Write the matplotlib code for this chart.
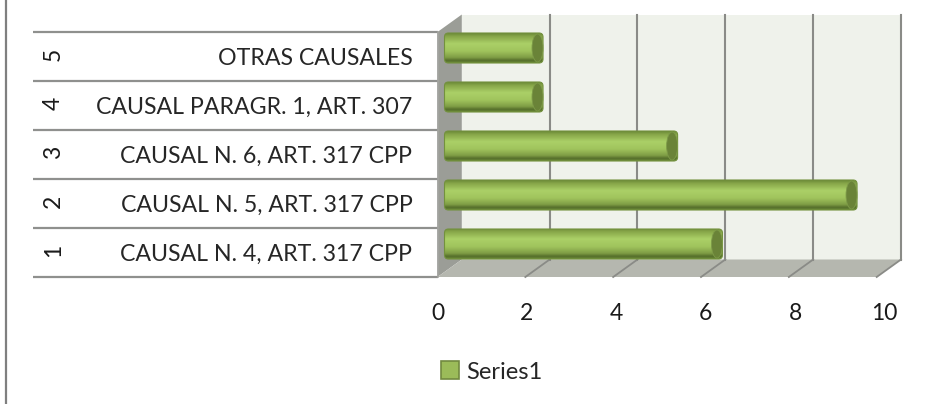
import matplotlib
matplotlib.use('Agg')
import matplotlib.pyplot as plt
import numpy as np
from matplotlib.colors import LinearSegmentedColormap
from matplotlib.patches import Polygon, Ellipse, FancyBboxPatch, Patch
from matplotlib.transforms import ScaledTranslation

# data
row_numbers = ['1', '2', '3', '4', '5']
categories = ['CAUSAL N. 4, ART. 317 CPP', 'CAUSAL N. 5, ART. 317 CPP',
              'CAUSAL N. 6, ART. 317 CPP', 'CAUSAL PARAGR. 1, ART. 307', 'OTRAS CAUSALES']
values = [6, 9, 5, 2, 2]
x_ticks = [0, 2, 4, 6, 8, 10]
series_name = 'Series1'

W, H = 952, 404
plt.rcParams['font.family'] = ['Lato', 'DejaVu Sans']

fig = plt.figure(figsize=(W / 100, H / 100), dpi=100)

# axes covers the front plane of the fake 3d box, in pixels
left, right, top, bottom = 437.5, 876.7, 32, 277
ax = fig.add_axes([left / W, 1 - bottom / H, (right - left) / W, (bottom - top) / H])
ax.set_xlim(0, 10)
ax.set_ylim(0.5, 5.5)
for s in ax.spines.values():
    s.set_visible(False)

# one data unit in pixels, and the depth of the box in data units
px_x = (right - left) / 10
px_y = (bottom - top) / 5
dx = 24.3 / px_x
dy = 17.5 / px_y

# walls
ax.add_patch(Polygon([(dx, .5 + dy), (10 + dx, .5 + dy), (10 + dx, 5.5 + dy), (dx, 5.5 + dy)],
                     fc='#eff2eb', ec='none', clip_on=False, zorder=1))
ax.add_patch(Polygon([(0, .5), (dx, .5 + dy), (dx, 5.5 + dy), (0, 5.5)],
                     fc='#9b9d97', ec='none', clip_on=False, zorder=1))
ax.add_patch(Polygon([(0, .5), (10, .5), (10 + dx, .5 + dy), (dx, .5 + dy)],
                     fc='#b5b7af', ec='none', clip_on=False, zorder=1))

# gridlines on back wall and floor
for t in x_ticks[1:]:
    ax.plot([t + dx, t + dx], [.5 + dy, 5.5 + dy], color='#8a8b87', lw=1.5, clip_on=False, zorder=2)
    ax.plot([t, t + dx], [.5, .5 + dy], color='#8a8b87', lw=1.3, clip_on=False, zorder=2)

# row lines to the left of the box
ax.hlines(np.arange(0.5, 6), (33 - left) / (right - left), 0, transform=ax.get_yaxis_transform(),
          color='#8f908e', lw=1.6, clip_on=False, zorder=3)
ax.plot([0, 0], [.5, 5.5], color='#a3a4a0', lw=1.2, clip_on=False, zorder=3)

# cylinders
shade = LinearSegmentedColormap.from_list('cyl', [
    (0.0, '#6c8a38'), (0.10, '#86a548'), (0.35, '#abd067'), (0.60, '#a0c45d'),
    (0.82, '#7f9d45'), (0.92, '#556e2b'), (1.0, '#6c8a38')])
bar_h = 30 / px_y
off_x = 10.3 / px_x
off_y = 8.5 / px_y
start_x = 7 / px_x
cap_w = 11 / px_x
# bars sit a little in front of the walls so they run slightly longer per unit
bar_scale = 1.0214
grad = np.linspace(0, 1, 64).reshape(-1, 1)
for i, v in enumerate(values):
    y = i + 1 + off_y
    cap_x = v * bar_scale + off_x
    x0, x1 = start_x, cap_x + cap_w / 2
    box = FancyBboxPatch((x0, y - bar_h / 2), x1 - x0, bar_h,
                         boxstyle='round,pad=0,rounding_size=0.09',
                         mutation_aspect=px_x / px_y,
                         fc='none', ec='#73913e', lw=0.8, clip_on=False, zorder=5)
    ax.add_patch(box)
    im = ax.imshow(grad, cmap=shade, aspect='auto', extent=(x0, x1, y - bar_h / 2, y + bar_h / 2),
                   zorder=4, interpolation='bilinear')
    im.set_clip_path(box)
    ax.add_patch(Ellipse((cap_x, y), cap_w, bar_h - 2 / px_y, fc='#6a8338', ec='#7d9a48',
                         lw=0.6, clip_on=False, zorder=6))
ax.set_xlim(0, 10)
ax.set_ylim(0.5, 5.5)

# labels
ax.set_xticks(x_ticks)
ax.set_xticklabels([str(t) for t in x_ticks])
ax.set_yticks(range(1, 6))
ax.set_yticklabels(categories)
ax.tick_params(axis='x', length=0, pad=19, labelsize=16.5, colors='#1a1a1a')
ax.tick_params(axis='y', length=0, pad=18, labelsize=16.7, colors='#262626')
# tick labels spread slightly wider than the floor ticks
for t, lab in zip(x_ticks, ax.get_xticklabels()):
    lab.set_transform(lab.get_transform() + ScaledTranslation(t * 0.8 / 100, 0, fig.dpi_scale_trans))
for i, n in enumerate(row_numbers):
    ax.annotate(n, xy=(0, i + 1), xycoords=ax.get_yaxis_transform(), xytext=(-384, 2),
                textcoords='offset pixels', rotation=90, ha='center', va='center',
                fontsize=16.5, color='#1a1a1a')

# legend
leg = fig.legend(handles=[Patch(fc='#9bbb59', ec='#71893f', lw=1.2, label=series_name)],
                 loc='center', bbox_to_anchor=(491.5 / W, 1 - 372 / H), frameon=False,
                 fontsize=17, handlelength=0.78, handleheight=0.78, handletextpad=0.3,
                 labelcolor='#262626')

# border of the picture on the left
fig.add_artist(plt.Line2D([6 / W, 6 / W], [0, 1], color='#7f7f7f', lw=1.6))

fig.savefig('out.png', dpi=100)
